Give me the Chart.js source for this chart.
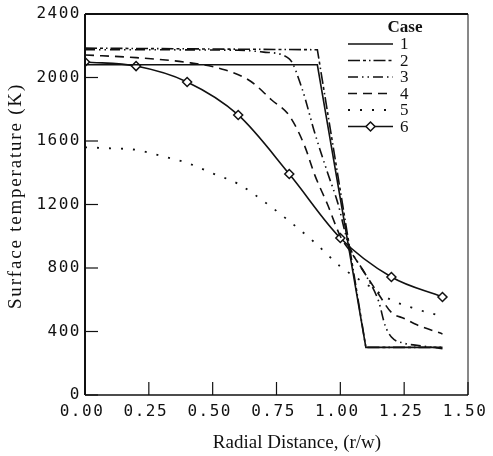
<!DOCTYPE html>
<html>
<head>
<meta charset="utf-8">
<script src="https://cdn.jsdelivr.net/npm/chart.js@4.4.1/dist/chart.umd.min.js"></script>
<style>
  html, body { margin: 0; padding: 0; background: #fff; }
  canvas { display: block; }
</style>
</head>
<body>
<canvas id="c" width="493" height="456"></canvas>
<script>
// Surface temperature vs. radial distance for six cases

const caseLabels = ['1', '2', '3', '4', '5', '6'];

const xTickValues = [0, 0.25, 0.5, 0.75, 1.0, 1.25, 1.5];
const xTickLabels = ['0.00', '0.25', '0.50', '0.75', '1.00', '1.25', '1.50'];
const yTickValues = [0, 400, 800, 1200, 1600, 2000, 2400];
const yTickLabels = ['0', '400', '800', '1200', '1600', '2000', '2400'];

// Case 1
const r1 = [0, 0.91, 1.10, 1.40];
const t1 = [2080, 2080, 300, 300];
// Case 2
const r2 = [0, 0.91, 1.10, 1.40];
const t2 = [2185, 2175, 300, 300];
// Case 3
const r3 = [0, 0.6, 0.7, 0.8, 0.85, 0.9, 0.95, 0.99, 1.03, 1.1, 1.15, 1.175, 1.2, 1.25, 1.3, 1.4];
const t3 = [2175, 2172, 2160, 2118, 1930, 1650, 1400, 1210, 960, 755, 590, 440, 365, 326, 313, 292];
// Case 4
const r4 = [0, 0.2, 0.4, 0.55, 0.65, 0.73, 0.8, 0.86, 0.9, 0.95, 1.0, 1.05, 1.1, 1.15, 1.2, 1.25, 1.3, 1.4];
const t4 = [2142, 2125, 2095, 2047, 1975, 1860, 1760, 1570, 1385, 1200, 1000, 880, 756, 635, 520, 482, 442, 385];
// Case 5
const r5 = [0, 0.1, 0.2, 0.3, 0.4, 0.5, 0.6, 0.7, 0.8, 0.9, 1.0, 1.1, 1.2, 1.3, 1.4];
const t5 = [1560, 1554, 1544, 1506, 1462, 1396, 1330, 1220, 1095, 960, 810, 700, 598, 540, 495];
// Case 6
const r6 = [0, 0.2, 0.4, 0.6, 0.8, 1.0, 1.2, 1.4];
const t6 = [2098, 2072, 1972, 1764, 1392, 989, 743, 617];

const radii = [r1, r2, r3, r4, r5, r6];
const temps = [t1, t2, t3, t4, t5, t6];

// line styles per case
const INK = '#111';
const dashes = [[], [12, 3, 3, 3, 1.5, 3], [10, 4, 1.5, 4, 1.5, 4], [9, 6], [2, 10], []];
const widths = [1.6, 1.6, 1.6, 1.6, 1.8, 1.6];
const smooth = [false, false, true, true, true, true];
const markers = [false, false, false, false, false, true];

const datasets = caseLabels.map((name, i) => ({
  label: name,
  data: radii[i].map((r, k) => ({ x: r, y: temps[i][k] })),
  borderColor: INK,
  borderWidth: widths[i],
  borderDash: dashes[i],
  cubicInterpolationMode: smooth[i] ? 'monotone' : 'default',
  tension: 0,
  fill: false,
  pointStyle: 'rectRot',
  pointRadius: markers[i] ? 4.5 : 0,
  pointBackgroundColor: '#fff',
  pointBorderColor: INK,
  pointBorderWidth: 1.5
}));

const TICK_FONT = { family: 'DejaVu Sans Mono', size: 16 };
const SERIF = '"Liberation Serif", "Times New Roman", serif';

function drawDiamond(ctx, x, y, r) {
  ctx.beginPath();
  ctx.moveTo(x, y - r);
  ctx.lineTo(x + r, y);
  ctx.lineTo(x, y + r);
  ctx.lineTo(x - r, y);
  ctx.closePath();
  ctx.fillStyle = '#fff';
  ctx.fill();
  ctx.lineWidth = 1.5;
  ctx.strokeStyle = INK;
  ctx.stroke();
}

// frame, inward tick marks, axis titles and the case key
const framePlugin = {
  id: 'frame',
  beforeDraw(chart) { chart.ctx.letterSpacing = '0px'; },
  afterDatasetsDraw(chart) { chart.ctx.letterSpacing = '1.5px'; },
  afterDraw(chart) {
    const ctx = chart.ctx;
    ctx.letterSpacing = '0px';
    ctx.save();
    const a = chart.chartArea;
    const xs = chart.scales.x, ys = chart.scales.y;
    ctx.strokeStyle = INK;
    ctx.setLineDash([]);

    // box
    ctx.lineWidth = 2;
    ctx.beginPath(); ctx.moveTo(a.left, a.top); ctx.lineTo(a.left, a.bottom); ctx.stroke();
    ctx.beginPath(); ctx.moveTo(a.left, a.top); ctx.lineTo(a.right, a.top); ctx.stroke();
    ctx.lineWidth = 1.5;
    ctx.beginPath(); ctx.moveTo(a.left, a.bottom); ctx.lineTo(a.right, a.bottom); ctx.stroke();
    ctx.lineWidth = 1;
    ctx.beginPath(); ctx.moveTo(a.right, a.top); ctx.lineTo(a.right, a.bottom); ctx.stroke();

    // inward ticks
    ctx.lineWidth = 1.2;
    xs.ticks.forEach(t => {
      const px = xs.getPixelForValue(t.value);
      ctx.beginPath(); ctx.moveTo(px, a.bottom); ctx.lineTo(px, a.bottom - 13); ctx.stroke();
    });
    ys.ticks.forEach(t => {
      const py = ys.getPixelForValue(t.value);
      ctx.beginPath(); ctx.moveTo(a.left, py); ctx.lineTo(a.left + 13, py); ctx.stroke();
    });

    // axis titles
    ctx.fillStyle = INK;
    ctx.font = '19px ' + SERIF;
    ctx.textAlign = 'center';
    ctx.textBaseline = 'alphabetic';
    ctx.fillText('Radial Distance, (r/w)', 297, 448);

    ctx.save();
    ctx.translate(21, 196);
    ctx.rotate(-Math.PI / 2);
    ctx.letterSpacing = '1.8px';
    ctx.textBaseline = 'alphabetic';
    ctx.fillText('Surface temperature (K)', 0, 0);
    ctx.restore();

    // case key
    ctx.font = 'bold 17px ' + SERIF;
    ctx.textAlign = 'center';
    ctx.textBaseline = 'middle';
    ctx.fillText('Case', 405, 28);
    ctx.font = '17px ' + SERIF;
    ctx.textAlign = 'left';
    const x0 = 348, x1 = 393, rowTop = 44, rowStep = 16.5;
    chart.data.datasets.forEach((ds, i) => {
      const y = rowTop + i * rowStep;
      ctx.save();
      ctx.lineWidth = ds.borderWidth;
      ctx.setLineDash(ds.borderDash);
      ctx.beginPath(); ctx.moveTo(x0, y); ctx.lineTo(x1, y); ctx.stroke();
      ctx.restore();
      if (markers[i]) drawDiamond(ctx, (x0 + x1) / 2, y, 4.5);
      ctx.fillStyle = INK;
      ctx.fillText(ds.label, 400, y + 1);
    });

    ctx.restore();
  }
};

new Chart(document.getElementById('c'), {
  type: 'line',
  data: { datasets },
  options: {
    responsive: false,
    animation: false,
    devicePixelRatio: 1,
    layout: { padding: { left: 0, right: 25, top: 14, bottom: 0 } },
    plugins: { legend: { display: false }, tooltip: { enabled: false } },
    scales: {
      x: {
        type: 'linear',
        min: 0, max: 1.5,
        afterBuildTicks: s => { s.ticks = xTickValues.map(v => ({ value: v })); },
        afterFit: s => { s.height = 61; s.paddingLeft = 0; s.paddingRight = 0; },
        grid: { display: false, drawTicks: false },
        border: { display: false },
        ticks: {
          z: 1,
          font: TICK_FONT,
          color: INK,
          padding: 7,
          labelOffset: -3,
          maxRotation: 0,
          autoSkip: false,
          callback: (v, i) => xTickLabels[i]
        }
      },
      y: {
        type: 'linear',
        min: 0, max: 2400,
        afterBuildTicks: s => { s.ticks = yTickValues.map(v => ({ value: v })); },
        afterFit: s => { s.width = 85; s.paddingTop = 0; s.paddingBottom = 0; },
        grid: { display: false, drawTicks: false },
        border: { display: false },
        ticks: {
          z: 1,
          font: TICK_FONT,
          color: INK,
          padding: 4,
          autoSkip: false,
          callback: (v, i) => yTickLabels[i]
        }
      }
    }
  },
  plugins: [framePlugin]
});
</script>
</body>
</html>
